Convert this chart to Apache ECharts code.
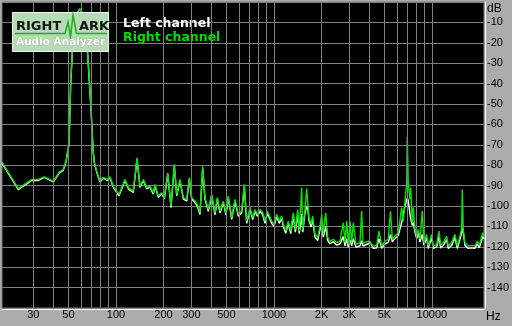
<!DOCTYPE html>
<html><head><meta charset="utf-8">
<script src="https://cdn.jsdelivr.net/npm/echarts@6/dist/echarts.min.js"></script>
<style>html,body{margin:0;padding:0;background:#acacac}#c{width:512px;height:326px}</style>
</head><body><div id="c"></div>
<script>
const freqs = [19,24.1,29.3,32.3,35.2,40.2,43.8,46.4,48.3,50.5,
51.7,53.7,55.9,57.5,59.2,60.1,61.9,64.2,66.6,69.6,
71.6,73,75.5,79.3,83.2,88.2,91.7,96.2,104.6,114.1,
119.8,128.8,136,142,149.1,156.6,164.3,172.4,176.7,185.4,
194.9,202.4,212.7,223.2,234.2,242.5,254.4,267,280.6,291.4,
301.7,316.6,327.3,340.4,354.1,366.2,384.2,403.7,423.6,438.1,
455.6,478.1,497.3,514.3,540.4,567,595,625.2,649.4,672.5,
705.7,734,759,785,816.5,849.2,878.2,908.2,935,968,
1001,1041,1081,1120,1147,1187,1233,1277,1326,1366,
1414,1447,1499,1521,1573,1612,1636,1667,1717,1760,
1819,1892,1957,2006,2053,2127,2190,2264,2376,2497,
2620,2749,2818,2888,2956,3030,3106,3179,3307,3505,
3593,3663,3771,3957,4056,4256,4471,4624,4810,5047,
5296,5468,5613,5838,6125,6437,6589,6754,6923,6984,
7086,7264,7338,7511,7621,7813,8009,8198,8404,8690,
8907,9264,9483,9963,10200,10718,11084,11362,11801,12400,
12693,13335,13992,14470,15050,15430,15565,15794,16190,16990,
17853,18730,19370,19940,20440,20960,21450];

const rightDb = [-78.5,-91.5,-87,-87,-85.7,-87.8,-83.4,-82.1,-78,-68.9,
-39.5,-15,-7.7,-4.7,-3.3,-3.8,-5.7,-11.1,-28.2,-52.7,
-72.3,-78.7,-82.9,-87.8,-85.9,-87,-85.7,-90.3,-94.3,-87,
-91,-92.7,-76.4,-90.3,-87,-91,-90.3,-93.5,-89.4,-95.1,
-93.5,-95.9,-83.7,-100,-79.6,-94.3,-87,-95.9,-96.8,-86.1,
-95.9,-97.6,-99.2,-103.3,-80.5,-95.9,-101.7,-94.3,-103.3,-95.9,
-102.5,-97.6,-103.3,-95.1,-105.7,-96.8,-104.1,-102.5,-89.4,-107.4,
-100.8,-105.7,-101.7,-104.1,-101.7,-103.3,-107.4,-102.5,-101.7,-107.4,
-109,-104.1,-107.4,-104.9,-109,-112.3,-107.4,-112.3,-103.3,-111.5,
-101.7,-112.3,-91,-111.5,-101.7,-91.5,-91.9,-105.7,-109,-104.9,
-113.9,-115.5,-109.8,-104.1,-113.9,-103.3,-115.5,-117.2,-116.3,-118,
-117.2,-108.2,-118,-107.4,-118.8,-107.4,-118,-108.2,-118.8,-118,
-102.5,-118.3,-118.8,-117.2,-116.3,-119.6,-119.3,-112.3,-119.6,-117.2,
-116.3,-102.6,-116.3,-114.7,-113.1,-100.8,-107.4,-97.6,-88.6,-66,
-88.6,-96.8,-91,-108.2,-100.8,-111.5,-114.7,-111.5,-116.3,-102.5,
-118,-113.9,-119.6,-113.9,-119.6,-118.8,-112.3,-119.3,-118,-114.7,
-119.6,-118,-113.9,-119.6,-114.7,-111.1,-91.9,-111.5,-118,-119.6,
-119.3,-119.6,-117.2,-119.3,-116.3,-113.1,-114.7];

const leftDb = [-79,-92,-87.5,-87.5,-86,-88.2,-83.8,-82.5,-78.5,-69.5,
-40,-15.5,-8,-5,-3.5,-4,-6,-11.5,-28.5,-53,
-72.5,-79,-83.3,-88.3,-86.3,-87.5,-86.2,-90.8,-95,-87.5,
-91.6,-93.3,-77,-90.9,-87.5,-91.6,-90.8,-94.2,-90,-95.8,
-94,-96.6,-84.3,-100.8,-80.3,-95,-87.6,-96.6,-97.5,-86.8,
-96.6,-98.3,-100,-104.2,-81.5,-96.6,-102.6,-95,-104.2,-96.6,
-103.4,-98.3,-104.3,-96,-106.6,-97.6,-105,-103.3,-90.5,-108.5,
-101.7,-106.7,-102.6,-105,-102.6,-104.3,-108.5,-103.5,-102.7,-108.5,
-110,-105.2,-108.5,-106,-110.2,-113.4,-108.6,-113.5,-105,-112.8,
-104,-113.6,-104,-112.8,-103.5,-100,-101,-107,-110.3,-106.5,
-115.2,-117,-111.5,-109,-115.3,-110,-117,-118.5,-117.5,-119.2,
-118.5,-115,-119.5,-116,-120.2,-116.5,-119.5,-116,-120.2,-119.5,
-117,-119.6,-120,-118.5,-117.5,-120.8,-120.5,-116,-120.8,-118.5,
-117.8,-114,-117.5,-116,-114.5,-108,-108.8,-100,-97,-96,
-97.5,-104,-106,-109.5,-108,-112.8,-116,-113,-117.6,-114,
-119.3,-115.5,-120.8,-115.5,-120.8,-120,-115,-120.6,-119.3,-116.5,
-120.8,-119.3,-115.5,-120.8,-116.3,-113,-111,-113,-119.3,-120.8,
-120.5,-120.8,-118.5,-120.5,-117.8,-115,-116];

const gridFreqs = [30,40,50,60,70,80,90,100,200,300,400,500,600,700,800,900,
1000,2000,3000,4000,5000,6000,7000,8000,9000,10000];
const tickFreqs = [30,50,100,200,300,500,1000,2000,3000,5000,10000];
const tickTexts = ['30','50','100','200','300','500','1000','2K','3K','5K','10000'];
const seriesNames = ['Left channel','Right channel'];

const chart = echarts.init(document.getElementById('c'), null, {renderer:'canvas', width:512, height:326});
const rightData = freqs.map((f,i)=>[f, rightDb[i]]);
const leftData = freqs.map((f,i)=>[f, leftDb[i]]);
const gridLines = gridFreqs.map(f => {
  const k = tickFreqs.indexOf(f);
  return {xAxis: f, label: k >= 0 ? {show:true, formatter: tickTexts[k]} : {show:false}};
});
const txt = {color:'#000', fontSize:11, fontFamily:'Liberation Sans'};

chart.setOption({
  backgroundColor:'#acacac',
  animation:false,
  tooltip:{show:false},
  grid:{left:2, right:28, top:2, bottom:18, show:true, backgroundColor:'#000', borderColor:'#808080', borderWidth:1},
  legend:{
    left:113, top:12, orient:'vertical', icon:'none', itemWidth:0, itemHeight:12, itemGap:1.5,
    selectedMode:false,
    textStyle:{fontFamily:'DejaVu Sans', fontWeight:'bold', fontSize:12.5},
    data:[{name:seriesNames[0], textStyle:{color:'#ffffff'}},{name:seriesNames[1], textStyle:{color:'#00e000'}}]
  },
  xAxis:{
    type:'log', logBase:10, min:19, max:21360, offset:1,
    axisLine:{show:true, onZero:false, lineStyle:{color:'#ffffff', width:1}},
    axisTick:{show:false}, axisLabel:{show:false}, splitLine:{show:false},
    name:'Hz', nameLocation:'end', nameGap:2,
    nameTextStyle:Object.assign({}, txt, {fontSize:12, align:'left', verticalAlign:'top', padding:[2,0,0,0]})
  },
  yAxis:{
    type:'value', position:'right', min:-150, max:0, interval:10, offset:1,
    axisLine:{show:true, onZero:false, lineStyle:{color:'#ffffff', width:1}},
    axisTick:{show:false},
    splitLine:{show:true, lineStyle:{color:'#808080', width:1}},
    axisLabel:Object.assign({}, txt, {margin:2, formatter: v => (v === 0 || v === -150) ? '' : String(v)}),
    name:'dB', nameLocation:'end', nameGap:-1,
    nameTextStyle:Object.assign({}, txt, {fontSize:12, align:'left', verticalAlign:'top', padding:[0,0,0,2]})
  },
  series:[
    {type:'line', name:'gridlines', data:[], z:1, silent:true,
     markLine:{silent:true, symbol:['none','none'], animation:false,
       lineStyle:{color:'#808080', width:1, type:'solid'},
       label:Object.assign({}, txt, {position:'start', distance:1}),
       emphasis:{disabled:true},
       data:gridLines}},
    {type:'line', name:seriesNames[0], data:leftData, z:2, showSymbol:false, symbol:'none',
     lineStyle:{color:'#ffffff', width:1.4}, itemStyle:{color:'#ffffff'}},
    {type:'line', name:seriesNames[1], data:rightData, z:3, showSymbol:false, symbol:'none',
     lineStyle:{color:'#00e600', width:1.4}, itemStyle:{color:'#00e000'}}
  ],
  graphic:[
    {type:'rect', z:100, shape:{x:12.5, y:12.5, width:96, height:39}, style:{fill:'#b6dbb6', stroke:'#eef6ee', lineWidth:1}},
    {type:'polyline', z:101, shape:{points:[[15,33.5],[65,33.5],[68,22],[70.5,37],[73,15],[76.5,33.5],[107,33.5]]}, style:{stroke:'#1fae1f', lineWidth:1.5, fill:null}},
    {type:'text', z:102, x:16, y:27, style:{text:'RIGHT', fill:'#111', font:'bold 13px "DejaVu Sans"', verticalAlign:'middle'}},
    {type:'text', z:102, x:79, y:27, style:{text:'ARK', fill:'#111', font:'bold 13px "DejaVu Sans"', verticalAlign:'middle'}},
    {type:'text', z:102, x:16, y:42.5, style:{text:'Audio Analyzer', fill:'#ffffff', font:'bold 10.5px "DejaVu Sans"', verticalAlign:'middle', stroke:'#8fb08f', lineWidth:0.6}}
  ]
});
</script></body></html>
